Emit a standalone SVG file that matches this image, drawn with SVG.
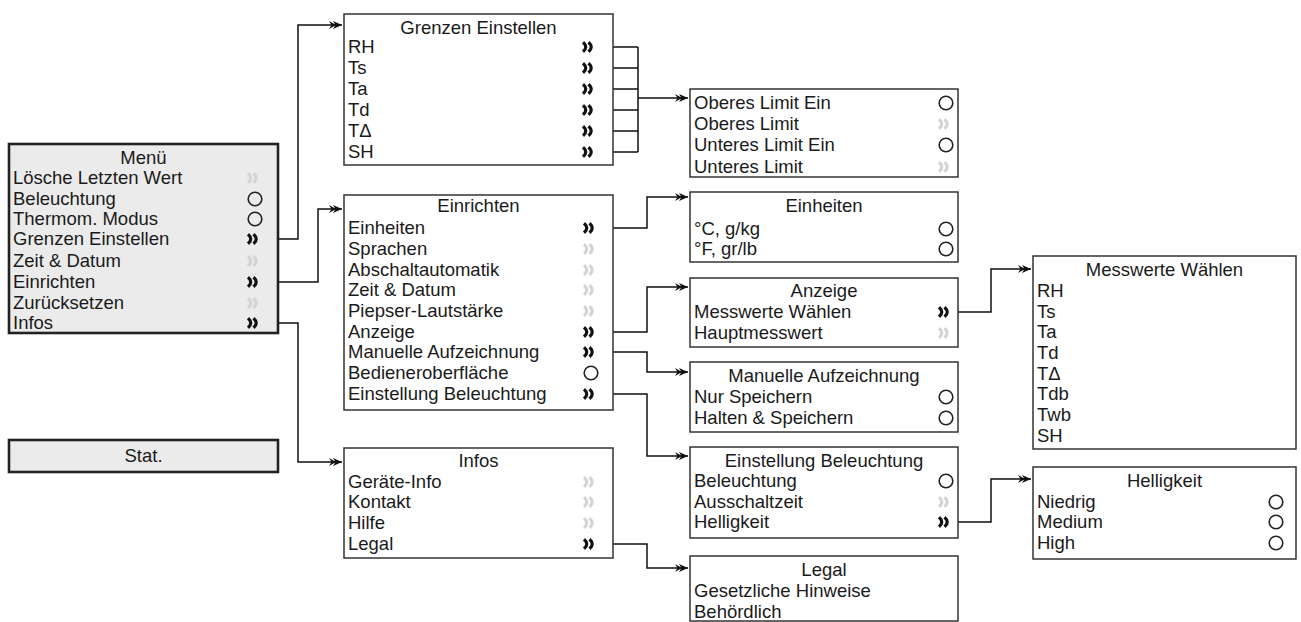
<svg xmlns="http://www.w3.org/2000/svg" xmlns:xlink="http://www.w3.org/1999/xlink" width="1301" height="622" viewBox="0 0 1301 622">
<style>
text{font-family:"Liberation Sans",Arial,sans-serif;font-size:18.5px;fill:#1a1a1a}
.t{text-anchor:middle}
.box{fill:#fff;stroke:#333;stroke-width:1.5}
.mbox{fill:#ebebeb;stroke:#222;stroke-width:2.6}
.cb{color:#111}
.cg{color:#d4d4d4}
.ci{fill:none;stroke:#222;stroke-width:1.6}
.con{fill:none;stroke:#111;stroke-width:1.5;marker-end:url(#ah)}
.cn{fill:none;stroke:#111;stroke-width:1.5}
</style>
<defs>
<g id="chev"><path d="M-7,-4.8 Q-1.5,0 -7,4.8 M-1.5,-4.8 Q4,0 -1.5,4.8" fill="none" stroke="currentColor" stroke-width="3.2"/></g>
<marker id="ah" viewBox="-15 -5 16 10" refX="0" refY="0" markerWidth="16" markerHeight="10" markerUnits="userSpaceOnUse" orient="auto">
<path d="M0,0 L-9,-4 L-6.5,0 L-9,4 Z M-6,0 L-13,-4 L-10.5,0 L-13,4 Z" fill="#111"/>
</marker>
</defs>

<g id="connectors">
<path class="con" d="M260,239 H298 V25 H342"/>
<path class="con" d="M260,282 H318 V209 H342"/>
<path class="con" d="M260,323 H298 V462 H342"/>
<path class="cn" d="M595,47 H638 M595,68 H638 M595,89 H638 M595,110 H638 M595,131 H638 M595,152 H638 M638,47 V152"/>
<path class="con" d="M638,98 H688"/>
<path class="con" d="M596,228 H647 V197 H688"/>
<path class="con" d="M596,332 H647 V287 H688"/>
<path class="con" d="M596,352 H647 V372 H688"/>
<path class="con" d="M596,394 H647 V456 H688"/>
<path class="con" d="M596,544 H647 V568 H688"/>
<path class="con" d="M951,312 H991 V269 H1031"/>
<path class="con" d="M951,522 H991 V479 H1031"/>
</g>

<g id="menu">
<rect class="mbox" x="9" y="144" width="269" height="189"/>
<text class="t" x="143.5" y="164">Menü</text>
<text x="13" y="184">Lösche Letzten Wert</text>
<text x="13" y="205">Beleuchtung</text>
<text x="13" y="225">Thermom. Modus</text>
<text x="13" y="245">Grenzen Einstellen</text>
<text x="13" y="267">Zeit &amp; Datum</text>
<text x="13" y="288">Einrichten</text>
<text x="13" y="309">Zurücksetzen</text>
<text x="13" y="329">Infos</text>
<use href="#chev" class="cg" x="255" y="178"/>
<circle class="ci" cx="255" cy="199" r="6.8"/>
<circle class="ci" cx="255" cy="219" r="6.8"/>
<use href="#chev" class="cb" x="255" y="239"/>
<use href="#chev" class="cg" x="255" y="261"/>
<use href="#chev" class="cb" x="255" y="282"/>
<use href="#chev" class="cg" x="255" y="303"/>
<use href="#chev" class="cb" x="255" y="323"/>
</g>

<g id="stat">
<rect class="mbox" x="9" y="440" width="269" height="32"/>
<text class="t" x="143.5" y="462">Stat.</text>
</g>

<g id="grenzen">
<rect class="box" x="344" y="14" width="269" height="151"/>
<text class="t" x="478.5" y="34">Grenzen Einstellen</text>
<text x="348" y="53">RH</text>
<text x="348" y="74">Ts</text>
<text x="348" y="95">Ta</text>
<text x="348" y="116">Td</text>
<text x="348" y="137">TΔ</text>
<text x="348" y="158">SH</text>
<use href="#chev" class="cb" x="590" y="47"/>
<use href="#chev" class="cb" x="590" y="68"/>
<use href="#chev" class="cb" x="590" y="89"/>
<use href="#chev" class="cb" x="590" y="110"/>
<use href="#chev" class="cb" x="590" y="131"/>
<use href="#chev" class="cb" x="590" y="152"/>
</g>

<g id="limits">
<rect class="box" x="690" y="89" width="268" height="88"/>
<text x="694" y="109">Oberes Limit Ein</text>
<text x="694" y="130">Oberes Limit</text>
<text x="694" y="151">Unteres Limit Ein</text>
<text x="694" y="173">Unteres Limit</text>
<circle class="ci" cx="946" cy="103" r="6.8"/>
<use href="#chev" class="cg" x="946" y="124"/>
<circle class="ci" cx="946" cy="145" r="6.8"/>
<use href="#chev" class="cg" x="946" y="167"/>
</g>

<g id="einrichten">
<rect class="box" x="344" y="195" width="269" height="215"/>
<text class="t" x="478.5" y="212">Einrichten</text>
<text x="348" y="234">Einheiten</text>
<text x="348" y="255">Sprachen</text>
<text x="348" y="276">Abschaltautomatik</text>
<text x="348" y="296">Zeit &amp; Datum</text>
<text x="348" y="317">Piepser-Lautstärke</text>
<text x="348" y="338">Anzeige</text>
<text x="348" y="358">Manuelle Aufzeichnung</text>
<text x="348" y="379">Bedieneroberfläche</text>
<text x="348" y="400">Einstellung Beleuchtung</text>
<use href="#chev" class="cb" x="591" y="228"/>
<use href="#chev" class="cg" x="591" y="249"/>
<use href="#chev" class="cg" x="591" y="270"/>
<use href="#chev" class="cg" x="591" y="290"/>
<use href="#chev" class="cg" x="591" y="311"/>
<use href="#chev" class="cb" x="591" y="332"/>
<use href="#chev" class="cb" x="591" y="352"/>
<circle class="ci" cx="591" cy="373" r="6.8"/>
<use href="#chev" class="cb" x="591" y="394"/>
</g>

<g id="einheiten">
<rect class="box" x="690" y="192" width="268" height="70"/>
<text class="t" x="824" y="212">Einheiten</text>
<text x="694" y="235">°C, g/kg</text>
<text x="694" y="255">°F, gr/lb</text>
<circle class="ci" cx="946" cy="229" r="6.8"/>
<circle class="ci" cx="946" cy="249" r="6.8"/>
</g>

<g id="anzeige">
<rect class="box" x="690" y="278" width="268" height="69"/>
<text class="t" x="824" y="297">Anzeige</text>
<text x="694" y="318">Messwerte Wählen</text>
<text x="694" y="339">Hauptmesswert</text>
<use href="#chev" class="cb" x="946" y="312"/>
<use href="#chev" class="cg" x="946" y="333"/>
</g>

<g id="manuelle">
<rect class="box" x="690" y="362" width="268" height="70"/>
<text class="t" x="824" y="382">Manuelle Aufzeichnung</text>
<text x="694" y="403">Nur Speichern</text>
<text x="694" y="424">Halten &amp; Speichern</text>
<circle class="ci" cx="946" cy="397" r="6.8"/>
<circle class="ci" cx="946" cy="418" r="6.8"/>
</g>

<g id="einstellung">
<rect class="box" x="690" y="447" width="268" height="91"/>
<text class="t" x="824" y="467">Einstellung Beleuchtung</text>
<text x="694" y="487">Beleuchtung</text>
<text x="694" y="508">Ausschaltzeit</text>
<text x="694" y="528">Helligkeit</text>
<circle class="ci" cx="946" cy="481" r="6.8"/>
<use href="#chev" class="cg" x="946" y="502"/>
<use href="#chev" class="cb" x="946" y="522"/>
</g>

<g id="legal">
<rect class="box" x="690" y="556" width="268" height="65"/>
<text class="t" x="824" y="576">Legal</text>
<text x="694" y="597">Gesetzliche Hinweise</text>
<text x="694" y="618">Behördlich</text>
</g>

<g id="infos">
<rect class="box" x="344" y="448" width="269" height="110"/>
<text class="t" x="478.5" y="467">Infos</text>
<text x="348" y="488">Geräte-Info</text>
<text x="348" y="508">Kontakt</text>
<text x="348" y="529">Hilfe</text>
<text x="348" y="550">Legal</text>
<use href="#chev" class="cg" x="591" y="482"/>
<use href="#chev" class="cg" x="591" y="502"/>
<use href="#chev" class="cg" x="591" y="523"/>
<use href="#chev" class="cb" x="591" y="544"/>
</g>

<g id="messwerte">
<rect class="box" x="1033" y="256" width="263" height="193"/>
<text class="t" x="1164.5" y="276">Messwerte Wählen</text>
<text x="1037" y="297">RH</text>
<text x="1037" y="318">Ts</text>
<text x="1037" y="338">Ta</text>
<text x="1037" y="359">Td</text>
<text x="1037" y="380">TΔ</text>
<text x="1037" y="400">Tdb</text>
<text x="1037" y="421">Twb</text>
<text x="1037" y="442">SH</text>
</g>

<g id="helligkeit">
<rect class="box" x="1033" y="467" width="263" height="92"/>
<text class="t" x="1164.5" y="487">Helligkeit</text>
<text x="1037" y="508">Niedrig</text>
<text x="1037" y="528">Medium</text>
<text x="1037" y="549">High</text>
<circle class="ci" cx="1276" cy="502" r="6.8"/>
<circle class="ci" cx="1276" cy="522" r="6.8"/>
<circle class="ci" cx="1276" cy="543" r="6.8"/>
</g>
</svg>
